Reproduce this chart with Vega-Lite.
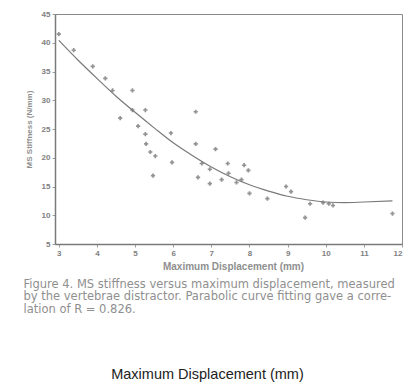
{
  "$schema": "https://vega.github.io/schema/vega-lite/v6.json",
  "width": 347,
  "height": 230,
  "autosize": {"type": "none"},
  "padding": {"left": 55, "top": 14, "right": 2, "bottom": 139},
  "background": "#ffffff",
  "config": {
    "view": {"stroke": "#8a8a8a", "strokeWidth": 1},
    "font": "Liberation Sans",
    "axisY": {"labelOverlap": false}
  },
  "title": {
    "text": "Maximum Displacement (mm)",
    "orient": "bottom",
    "anchor": "middle",
    "frame": "group",
    "dx": -21,
    "offset": 53,
    "fontSize": 14.5,
    "fontWeight": "normal",
    "font": "Liberation Sans",
    "color": "#222222"
  },
  "datasets": {
    "pts": [
      {"disp": 3.0, "stiff": 41.5},
      {"disp": 3.39, "stiff": 38.7},
      {"disp": 3.89, "stiff": 35.9},
      {"disp": 4.22, "stiff": 33.8},
      {"disp": 4.41, "stiff": 31.7},
      {"disp": 4.93, "stiff": 31.7},
      {"disp": 4.93, "stiff": 28.3},
      {"disp": 5.27, "stiff": 28.3},
      {"disp": 4.61, "stiff": 26.9},
      {"disp": 5.08, "stiff": 25.5},
      {"disp": 5.27, "stiff": 24.1},
      {"disp": 5.94, "stiff": 24.3},
      {"disp": 6.59, "stiff": 28.0},
      {"disp": 5.29, "stiff": 22.4},
      {"disp": 5.40, "stiff": 21.0},
      {"disp": 5.53, "stiff": 20.3},
      {"disp": 5.97, "stiff": 19.2},
      {"disp": 5.47, "stiff": 16.9},
      {"disp": 6.59, "stiff": 22.4},
      {"disp": 7.11, "stiff": 21.5},
      {"disp": 6.75, "stiff": 19.0},
      {"disp": 6.96, "stiff": 18.0},
      {"disp": 7.43, "stiff": 19.0},
      {"disp": 7.86, "stiff": 18.7},
      {"disp": 7.97, "stiff": 17.8},
      {"disp": 6.65, "stiff": 16.6},
      {"disp": 6.96, "stiff": 15.5},
      {"disp": 7.27, "stiff": 16.2},
      {"disp": 7.45, "stiff": 17.3},
      {"disp": 7.66, "stiff": 15.7},
      {"disp": 7.79, "stiff": 16.2},
      {"disp": 8.0, "stiff": 13.8},
      {"disp": 8.47, "stiff": 12.9},
      {"disp": 8.96, "stiff": 15.0},
      {"disp": 9.09, "stiff": 14.1},
      {"disp": 9.59, "stiff": 12.0},
      {"disp": 9.93, "stiff": 12.2},
      {"disp": 10.08, "stiff": 12.0},
      {"disp": 10.19, "stiff": 11.7},
      {"disp": 9.46, "stiff": 9.6},
      {"disp": 11.75, "stiff": 10.3}
    ],
    "fit": [
      {"disp": 3.0, "stiff": 40.4},
      {"disp": 3.5, "stiff": 37.0},
      {"disp": 4.0, "stiff": 33.8},
      {"disp": 4.5, "stiff": 30.7},
      {"disp": 5.0, "stiff": 27.9},
      {"disp": 5.5, "stiff": 25.2},
      {"disp": 6.0, "stiff": 22.6},
      {"disp": 6.5, "stiff": 20.4},
      {"disp": 7.0, "stiff": 18.4},
      {"disp": 7.5, "stiff": 16.7},
      {"disp": 8.0, "stiff": 15.3},
      {"disp": 8.5, "stiff": 14.2},
      {"disp": 9.0, "stiff": 13.3},
      {"disp": 9.5, "stiff": 12.7},
      {"disp": 10.0, "stiff": 12.3},
      {"disp": 10.5, "stiff": 12.2},
      {"disp": 11.0, "stiff": 12.3},
      {"disp": 11.75, "stiff": 12.5}
    ]
  },
  "layer": [
    {
      "data": {"name": "pts"},
      "mark": {"type": "point", "shape": "cross", "filled": true, "size": 18, "color": "#808080", "opacity": 0.85},
      "encoding": {
        "x": {
          "field": "disp", "type": "quantitative",
          "scale": {"domain": [2.9, 12], "nice": false, "zero": false},
          "axis": {
            "values": [3, 4, 5, 6, 7, 8, 9, 10, 11, 12],
            "labelOverlap": false,
            "title": "Maximum Displacement (mm)",
            "titleFontSize": 10, "titleFontWeight": "bold", "titleColor": "#8f8f8f",
            "titlePadding": 4, "titleX": 178,
            "labelFontSize": 8, "labelFontWeight": "bold", "labelColor": "#808080",
            "labelPadding": 2, "tickSize": 3, "tickColor": "#a0a0a0",
            "domainColor": "#7a7a7a", "domainWidth": 1.5, "grid": false
          }
        },
        "y": {
          "field": "stiff", "type": "quantitative",
          "scale": {"domain": [5, 45], "nice": false, "zero": false},
          "axis": {
            "values": [5, 10, 15, 20, 25, 30, 35, 40, 45],
            "labelOverlap": false,
            "title": "MS Stiffness (N/mm)",
            "titleFontSize": 8, "titleFontWeight": "bold", "titleColor": "#8f8f8f",
            "titlePadding": 8,
            "labelFontSize": 8, "labelFontWeight": "bold", "labelColor": "#808080",
            "labelPadding": 2, "tickSize": 3, "tickColor": "#a0a0a0",
            "domainColor": "#7a7a7a", "domainWidth": 1.5, "grid": false
          }
        }
      }
    },
    {
      "data": {"name": "fit"},
      "mark": {"type": "line", "interpolate": "monotone", "color": "#7a7a7a", "strokeWidth": 1.2},
      "encoding": {
        "x": {
          "field": "disp", "type": "quantitative",
          "scale": {"domain": [2.9, 12], "nice": false, "zero": false},
          "axis": {
            "orient": "bottom",
            "domain": false, "ticks": false, "labels": false, "grid": false,
            "title": [
              "Figure 4. MS stiffness versus maximum displacement, measured",
              "by the vertebrae distractor. Parabolic curve fitting gave a corre-",
              "lation of R = 0.826."
            ],
            "titleAnchor": "start", "titleAlign": "left", "titleBaseline": "alphabetic",
            "titleX": -32, "titleY": 43, "titleLimit": 2000,
            "titleFont": "DejaVu Sans",
            "titleFontSize": 11.5, "titleFontWeight": "normal", "titleColor": "#8f8f8f",
            "titleLineHeight": 12.5
          }
        },
        "y": {
          "field": "stiff", "type": "quantitative",
          "scale": {"domain": [5, 45], "nice": false, "zero": false},
          "axis": {
            "values": [5, 10, 15, 20, 25, 30, 35, 40, 45],
            "labelOverlap": false,
            "title": "MS Stiffness (N/mm)",
            "titleFontSize": 8, "titleFontWeight": "bold", "titleColor": "#8f8f8f",
            "titlePadding": 8,
            "labelFontSize": 8, "labelFontWeight": "bold", "labelColor": "#808080",
            "labelPadding": 2, "tickSize": 3, "tickColor": "#a0a0a0",
            "domainColor": "#7a7a7a", "domainWidth": 1.5, "grid": false
          }
        }
      }
    }
  ],
  "resolve": {"axis": {"x": "independent"}}
}
